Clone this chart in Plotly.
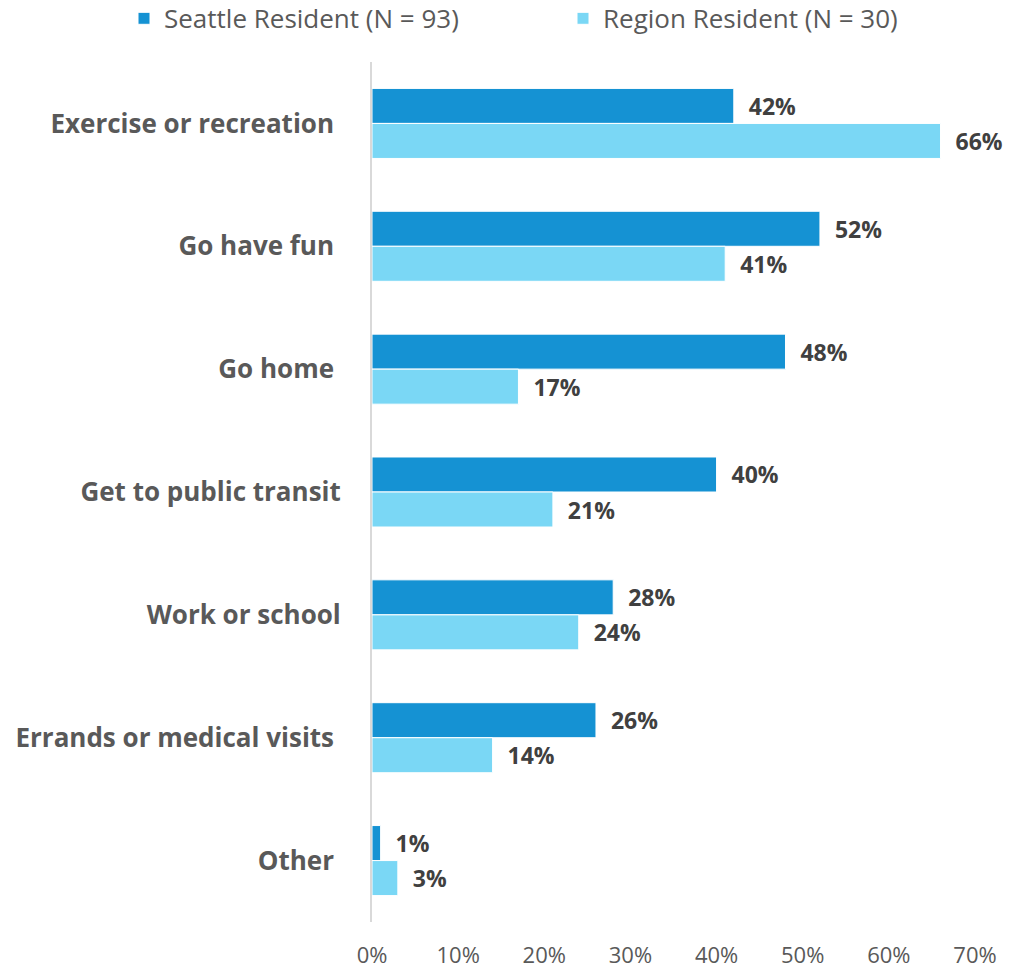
import plotly.graph_objects as go

categories = [
    "Exercise or recreation\u00a0",
    "Go have fun\u00a0",
    "Go home\u00a0",
    "Get to public transit",
    "Work or school",
    "Errands or medical visits\u00a0",
    "Other\u00a0",
]
seattle = [42, 52, 48, 40, 28, 26, 1]
region = [66, 41, 17, 21, 24, 14, 3]
series_names = ["Seattle Resident (N = 93)", "Region Resident (N = 30)"]
x_ticks = [0, 10, 20, 30, 40, 50, 60, 70]
x_tick_labels = ["0%", "10%", "20%", "30%", "40%", "50%", "60%", "70%"]

DARK = "#1592D3"
LIGHT = "#7AD7F5"
FONT = "Open Sans"

fig = go.Figure()
for name, vals, col, lg in [(series_names[0], seattle, DARK, "legend"),
                            (series_names[1], region, LIGHT, "legend2")]:
    fig.add_trace(go.Bar(
        y=categories, x=vals, name=name, orientation="h", legend=lg,
        showlegend=True,
        marker=dict(color=col, line=dict(color="white", width=1)),
        text=[f"{v}%" for v in vals],
        texttemplate="\u00a0\u00a0%{text}", textposition="outside",
        textfont=dict(family=FONT, size=23, color="#404040", weight="bold"),
        constraintext="none", cliponaxis=False,
    ))

legend_common = dict(
    orientation="h", xref="container", yref="container",
    yanchor="middle", xanchor="left", y=0.981,
    font=dict(family=FONT, size=26, color="#595959"),
    bgcolor="rgba(0,0,0,0)", visible=True,
)

fig.update_layout(
    width=1019, height=969,
    showlegend=True,
    margin=dict(l=372, r=44, t=62, b=47, autoexpand=False),
    barmode="group", bargap=0.43, bargroupgap=0,
    plot_bgcolor="white", paper_bgcolor="white",
    font=dict(family=FONT, color="#595959"),
    legend=dict(legend_common, x=124 / 1019),
    legend2=dict(legend_common, x=563 / 1019),
    xaxis=dict(
        range=[0, 70], tickvals=x_ticks, ticktext=x_tick_labels,
        showgrid=False, zeroline=False, showline=False, automargin=False,
        tickfont=dict(family=FONT, size=22, color="#595959"),
        ticklabelstandoff=18,
    ),
    yaxis=dict(
        autorange="reversed", showgrid=False, zeroline=False, automargin=False,
        showline=True, linecolor="#D9D9D9", linewidth=2,
        tickfont=dict(family=FONT, size=26, color="#595959", weight="bold"),
        ticklabelstandoff=24,
    ),
)

fig.write_html(
    "out.html",
    config={"displayModeBar": False},
    post_script="document.body.style.margin='0';document.body.style.overflow='hidden';",
)
